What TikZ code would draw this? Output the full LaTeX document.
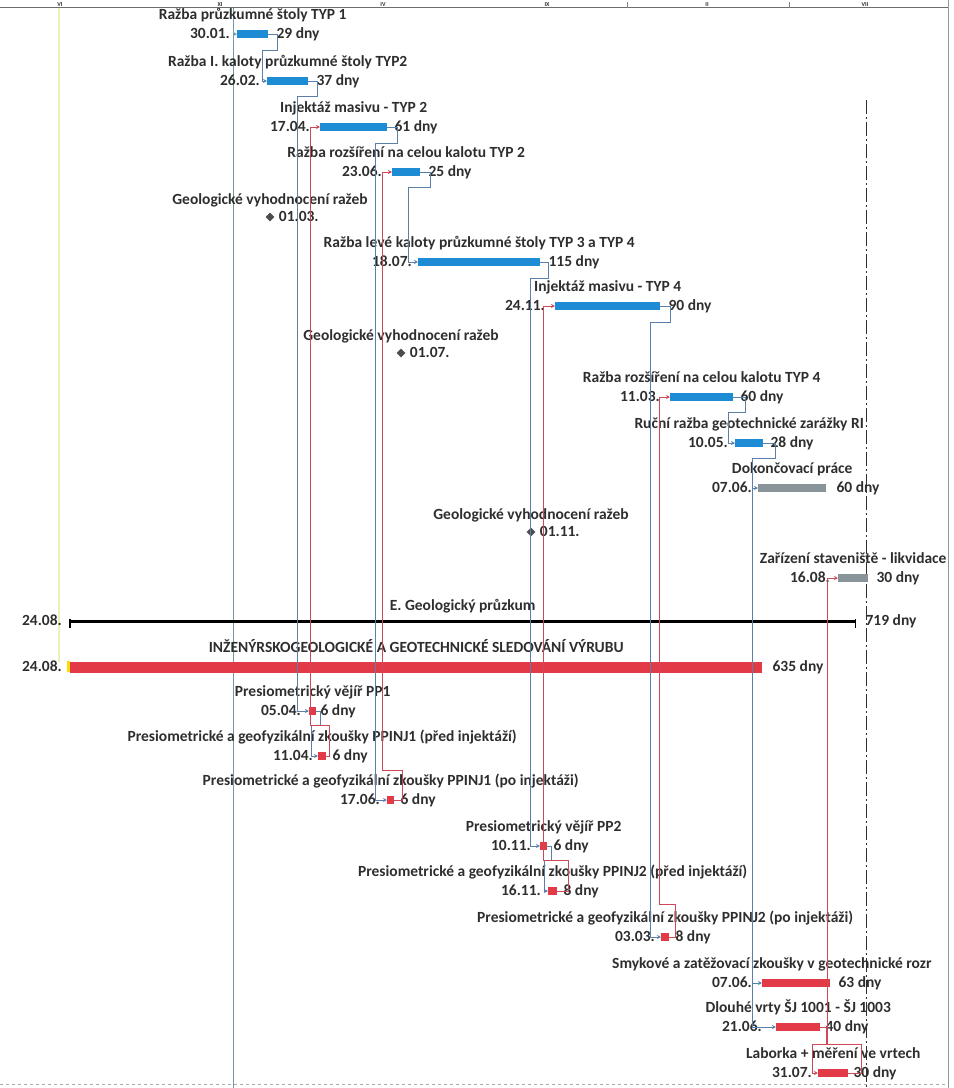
\documentclass[tikz,border=0pt]{standalone}
\usepackage{fontspec}
\setmainfont{Carlito}
\usepackage{xcolor}
\usepackage{tikz}
\usetikzlibrary{positioning,shapes,shapes.geometric,arrows.meta}
\definecolor{ink}{HTML}{2E2E2E}
\definecolor{barblue}{HTML}{1E8CD5}
\definecolor{barred}{HTML}{E23A46}
\definecolor{bargrey}{HTML}{89939A}
\definecolor{linkblue}{HTML}{5A7FA8}
\definecolor{linkred}{HTML}{CC4A58}
\definecolor{predline}{HTML}{6F9AA6}
\definecolor{paleyellow}{HTML}{EEF0B8}

\begin{document}
\begin{tikzpicture}[x=1pt, y=-1pt,
task/.style={rectangle, inner sep=0pt, minimum height=8.5pt, anchor=west},
bluetask/.style={task, fill=barblue},
redtask/.style={task, fill=barred},
greytask/.style={task, fill=bargrey},
milestone/.style={diamond, fill=ink!85, minimum size=9pt, inner sep=0pt},
tasktitle/.style={inner sep=0pt, text=ink, font=\bfseries\fontsize{15.5}{17}\selectfont, text height=11pt, text depth=3pt},
taskdate/.style={tasktitle},
taskdur/.style={tasktitle},
monthmark/.style={anchor=base, inner sep=0pt, text=ink, font=\bfseries\fontsize{6}{6}\selectfont},
bluelink/.style={draw=linkblue, line width=0.75pt, -{Stealth[length=4pt,width=4pt]}},
redlink/.style={draw=linkred, line width=0.75pt, -{Stealth[length=4pt,width=4pt]}},
]
\useasboundingbox (0,0) rectangle (954,1088);

%Timescale
\draw[ink!70, line width=0.8pt] (0,7.5) -- (948,7.5);
\draw[ink!50, line width=0.8pt] (948,0) -- (948,1088);
\draw[ink!40, dashed, line width=0.6pt] (0,1084) -- (948,1084);
\node[monthmark] (m_vi) at (60,6) {VI};
\node[monthmark] (m_xi) at (220,6) {XI};
\node[monthmark] (m_iv) at (383,6) {IV};
\node[monthmark] (m_ix) at (547,6) {IX};
\node[monthmark] (m_ii) at (707,6) {II};
\node[monthmark] (m_vii) at (865,6) {VII};
\draw[ink!60] (627,2) -- (627,7.5);
\draw[ink!60] (789,2) -- (789,7.5);

\coordinate (yl_top) at (59,8);
\coordinate (yl_bot) at (59,662);
\draw[paleyellow, line width=2.5pt] (yl_top) -- (yl_bot);

\coordinate (status_top) at (866,100);
\coordinate (status_bot) at (866,1088);
\draw[ink, line width=0.8pt, dash pattern=on 14pt off 3pt on 2pt off 3pt] (status_top) -- (status_bot);

\coordinate (pred_top) at (233,8);
\coordinate (pred_bot) at (233,1088);
\draw[predline, line width=0.8pt] (pred_top) -- (pred_bot);

%Tasks
\node[bluetask, minimum width=31pt] (bar_t1) at (237,34) {};
\node[tasktitle] (name_t1) [above=6.5pt of bar_t1] {Ražba průzkumné štoly TYP 1};
\node[taskdate] (date_t1) [left=7pt of bar_t1] {30.01.};
\node[taskdur] (dur_t1) [right=8pt of bar_t1] {29 dny};

\node[bluetask, minimum width=41pt] (bar_t2) at (267,81) {};
\node[tasktitle] (name_t2) [above=6.5pt of bar_t2] {Ražba I. kaloty průzkumné štoly TYP2};
\node[taskdate] (date_t2) [left=7pt of bar_t2] {26.02.};
\node[taskdur] (dur_t2) [right=8pt of bar_t2] {37 dny};

\node[bluetask, minimum width=67pt] (bar_t3) at (320,127) {};
\node[tasktitle] (name_t3) [above=6.5pt of bar_t3] {Injektáž masivu - TYP 2};
\node[taskdate] (date_t3) [left=10pt of bar_t3] {17.04.};
\node[taskdur] (dur_t3) [right=7pt of bar_t3] {61 dny};

\node[bluetask, minimum width=28pt] (bar_t4) at (392,172) {};
\node[tasktitle] (name_t4) [above=6.5pt of bar_t4] {Ražba rozšíření na celou kalotu TYP 2};
\node[taskdate] (date_t4) [left=10pt of bar_t4] {23.06.};
\node[taskdur] (dur_t4) [right=8pt of bar_t4] {25 dny};

\node[bluetask, minimum width=122pt] (bar_t6) at (418,262) {};
\node[tasktitle] (name_t6) [above=6.5pt of bar_t6] {Ražba levé kaloty průzkumné štoly TYP 3 a TYP 4};
\node[taskdate] (date_t6) [left=6pt of bar_t6] {18.07.};
\node[taskdur] (dur_t6) [right=8pt of bar_t6] {115 dny};

\node[bluetask, minimum width=105pt] (bar_t7) at (555,306) {};
\node[tasktitle] (name_t7) [above=6.5pt of bar_t7] {Injektáž masivu - TYP 4};
\node[taskdate] (date_t7) [left=10pt of bar_t7] {24.11.};
\node[taskdur] (dur_t7) [right=8pt of bar_t7] {90 dny};

\node[bluetask, minimum width=63pt] (bar_t9) at (670,397) {};
\node[tasktitle] (name_t9) [above=6.5pt of bar_t9] {Ražba rozšíření na celou kalotu TYP 4};
\node[taskdate] (date_t9) [left=10pt of bar_t9] {11.03.};
\node[taskdur] (dur_t9) [right=7pt of bar_t9] {60 dny};

\node[bluetask, minimum width=28pt] (bar_t10) at (735,443) {};
\node[tasktitle] (name_t10) [above=6.5pt of bar_t10] {Ruční ražba geotechnické zarážky RI};
\node[taskdate] (date_t10) [left=7pt of bar_t10] {10.05.};
\node[taskdur] (dur_t10) [right=7pt of bar_t10] {28 dny};

\node[greytask, minimum width=68pt] (bar_t11) at (758,488) {};
\node[tasktitle] (name_t11) [above=6.5pt of bar_t11] {Dokončovací práce};
\node[taskdate] (date_t11) [left=6pt of bar_t11] {07.06.};
\node[taskdur] (dur_t11) [right=10pt of bar_t11] {60 dny};

\node[greytask, minimum width=30pt] (bar_t13) at (838,578) {};
\node[tasktitle] (name_t13) [above=6.5pt of bar_t13] {Zařízení staveniště - likvidace};
\node[taskdate] (date_t13) [left=8pt of bar_t13] {16.08.};
\node[taskdur] (dur_t13) [right=8pt of bar_t13] {30 dny};

%Milestones
\node[milestone] (ms_1) at (270,217) {};
\node[tasktitle] (name_ms1) [above=4.5pt of ms_1] {Geologické vyhodnocení ražeb};
\node[taskdate] (date_ms1) [right=4pt of ms_1] {01.03.};

\node[milestone] (ms_2) at (401,353) {};
\node[tasktitle] (name_ms2) [above=4.5pt of ms_2] {Geologické vyhodnocení ražeb};
\node[taskdate] (date_ms2) [right=4pt of ms_2] {01.07.};

\node[milestone] (ms_3) at (531,532) {};
\node[tasktitle] (name_ms3) [above=4.5pt of ms_3] {Geologické vyhodnocení ražeb};
\node[taskdate] (date_ms3) [right=4pt of ms_3] {01.11.};

%Summary
\node[task, fill=black, minimum height=3pt, minimum width=785pt] (bar_e) at (70,621) {};
\draw[black, line width=1.6pt] (bar_e.north west) -- ++(0,9);
\draw[black, line width=1.6pt] (bar_e.north east) -- ++(0,9);
\node[tasktitle] (name_e) [above=6pt of bar_e] {E. Geologický průzkum};
\node[taskdate] (date_e) [left=8pt of bar_e] {24.08.};
\node[taskdur] (dur_e) [right=10pt of bar_e] {719 dny};

\node[redtask, minimum height=11pt, minimum width=692pt] (bar_izg) at (70,667) {};
\fill[yellow!80!orange] (bar_izg.north west) ++(-3,0) rectangle ++(3,11);
\node[tasktitle] (name_izg) [above=5.5pt of bar_izg] {INŽENÝRSKOGEOLOGICKÉ A GEOTECHNICKÉ SLEDOVÁNÍ VÝRUBU};
\node[taskdate] (date_izg) [left=8pt of bar_izg] {24.08.};
\node[taskdur] (dur_izg) [right=10pt of bar_izg] {635 dny};

%Tests
\node[redtask, minimum width=7pt] (bar_pp1) at (309,711) {};
\node[tasktitle] (name_pp1) [above=6.5pt of bar_pp1] {Presiometrický vějíř PP1};
\node[taskdate] (date_pp1) [left=8pt of bar_pp1] {05.04.};
\node[taskdur] (dur_pp1) [right=4pt of bar_pp1] {6 dny};

\node[redtask, minimum width=8pt] (bar_pj1a) at (318,756) {};
\node[tasktitle] (name_pj1a) [above=6.5pt of bar_pj1a] {Presiometrické a geofyzikální zkoušky PPINJ1 (před injektáží)};
\node[taskdate] (date_pj1a) [left=5pt of bar_pj1a] {11.04.};
\node[taskdur] (dur_pj1a) [right=6pt of bar_pj1a] {6 dny};

\node[redtask, minimum width=7pt] (bar_pj1b) at (387,800) {};
\node[tasktitle] (name_pj1b) [above=6.5pt of bar_pj1b] {Presiometrické a geofyzikální zkoušky PPINJ1 (po injektáži)};
\node[taskdate] (date_pj1b) [left=7pt of bar_pj1b] {17.06.};
\node[taskdur] (dur_pj1b) [right=6pt of bar_pj1b] {6 dny};

\node[redtask, minimum width=7pt] (bar_pp2) at (540,846) {};
\node[tasktitle] (name_pp2) [above=6.5pt of bar_pp2] {Presiometrický vějíř PP2};
\node[taskdate] (date_pp2) [left=9pt of bar_pp2] {10.11.};
\node[taskdur] (dur_pp2) [right=6pt of bar_pp2] {6 dny};

\node[redtask, minimum width=9pt] (bar_pj2a) at (548,891) {};
\node[tasktitle] (name_pj2a) [above=6.5pt of bar_pj2a] {Presiometrické a geofyzikální zkoušky PPINJ2 (před injektáží)};
\node[taskdate] (date_pj2a) [left=7pt of bar_pj2a] {16.11.};
\node[taskdur] (dur_pj2a) [right=6pt of bar_pj2a] {8 dny};

\node[redtask, minimum width=8pt] (bar_pj2b) at (661,937) {};
\node[tasktitle] (name_pj2b) [above=6.5pt of bar_pj2b] {Presiometrické a geofyzikální zkoušky PPINJ2 (po injektáži)};
\node[taskdate] (date_pj2b) [left=6pt of bar_pj2b] {03.03.};
\node[taskdur] (dur_pj2b) [right=6pt of bar_pj2b] {8 dny};

\node[redtask, minimum width=68pt] (bar_smyk) at (762,983) {};
\node[tasktitle, anchor=south west] (name_smyk) at (612,972) {Smykové a zatěžovací zkoušky v geotechnické rozr};
\node[taskdate] (date_smyk) [left=10pt of bar_smyk] {07.06.};
\node[taskdur] (dur_smyk) [right=8pt of bar_smyk] {63 dny};

\node[redtask, minimum width=44pt] (bar_vrty) at (776,1027) {};
\node[tasktitle] (name_vrty) [above=6.5pt of bar_vrty] {Dlouhé vrty ŠJ 1001 - ŠJ 1003};
\node[taskdate] (date_vrty) [left=14pt of bar_vrty] {21.06.};
\node[taskdur] (dur_vrty) [right=5pt of bar_vrty] {40 dny};

\node[redtask, minimum width=30pt] (bar_lab) at (818,1073) {};
\node[tasktitle] (name_lab) [above=6.5pt of bar_lab] {Laborka + měření ve vrtech};
\node[taskdate] (date_lab) [left=6pt of bar_lab] {31.07.};
\node[taskdur] (dur_lab) [right=5pt of bar_lab] {30 dny};

%Links between tasks
\draw[draw=predline, line width=0.8pt, -{Stealth[length=4pt,width=4pt]}] (pred_top |- bar_t1.west) -- (bar_t1.west);
\draw[bluelink] (bar_t1.east) -- ++(9,0) -- ++(0,16) -| ([xshift=-5pt]bar_t2.west) -- (bar_t2.west);
\draw[bluelink] (bar_t2.east) -- ++(9,0) -- ++(0,15) -| ([xshift=-12pt]bar_pp1.west) -- (bar_pp1.west);
\draw[bluelink] (bar_pp1.east) -- ++(4,0) -- ++(0,14) -| ([xshift=-7pt]bar_pj1a.west) -- (bar_pj1a.west);
\draw[redlink] (bar_pj1a.east) -- ++(3,0) -- ++(0,-31) -| ([xshift=-10pt]bar_t3.west) -- (bar_t3.west);
\draw[bluelink] (bar_t3.east) -- ++(10,0) -- ++(0,16) -| ([xshift=-12pt]bar_pj1b.west) -- (bar_pj1b.west);
\draw[redlink] (bar_pj1b.east) -- ++(8,0) -- ++(0,-30) -| ([xshift=-10pt]bar_t4.west) -- (bar_t4.west);
\draw[bluelink] (bar_t4.east) -- ++(10,0) -- ++(0,15) -| ([xshift=-10pt]bar_t6.west) -- (bar_t6.west);
\draw[bluelink] (bar_t6.east) -- ++(8,0) -- ++(0,16) -| ([xshift=-10pt]bar_pp2.west) -- (bar_pp2.west);
\draw[bluelink] (bar_pp2.east) -- ++(4,0) -- ++(0,14) -| ([xshift=-4pt]bar_pj2a.west) -- (bar_pj2a.west);
\draw[redlink] (bar_pj2a.east) -- ++(11,0) -- ++(0,-31) -| ([xshift=-12pt]bar_t7.west) -- (bar_t7.west);
\draw[bluelink] (bar_t7.east) -- ++(10,0) -- ++(0,16) -| ([xshift=-11pt]bar_pj2b.west) -- (bar_pj2b.west);
\draw[redlink] (bar_pj2b.east) -- ++(6,0) -- ++(0,-33) -| ([xshift=-11pt]bar_t9.west) -- (bar_t9.west);
\draw[bluelink] (bar_t9.east) -- ++(12,0) -- ++(0,15) -| ([xshift=-7pt]bar_t10.west) -- (bar_t10.west);
\draw[bluelink] (bar_t10.east) -- ++(12,0) -- ++(0,15) -| ([xshift=-6pt]bar_t11.west) -- (bar_t11.west);
\draw[bluelink] (bar_t10.east) -- ++(12,0) -- ++(0,15) -| ([xshift=-10pt]bar_smyk.west) -- (bar_smyk.west);
\draw[bluelink] (bar_t10.east) -- ++(12,0) -- ++(0,15) -| ([xshift=-24pt]bar_vrty.west) -- (bar_vrty.west);

%Final links
\draw[redlink] (bar_vrty.east) -- ++(6,0) -- ++(0,17) -| ([xshift=-6pt]bar_lab.west) -- (bar_lab.west);
\draw[redlink] (bar_lab.east) -- ++(13,0) -- ++(0,-29) -| ([xshift=-11pt]bar_t13.west) -- (bar_t13.west);
\end{tikzpicture}
\end{document}
